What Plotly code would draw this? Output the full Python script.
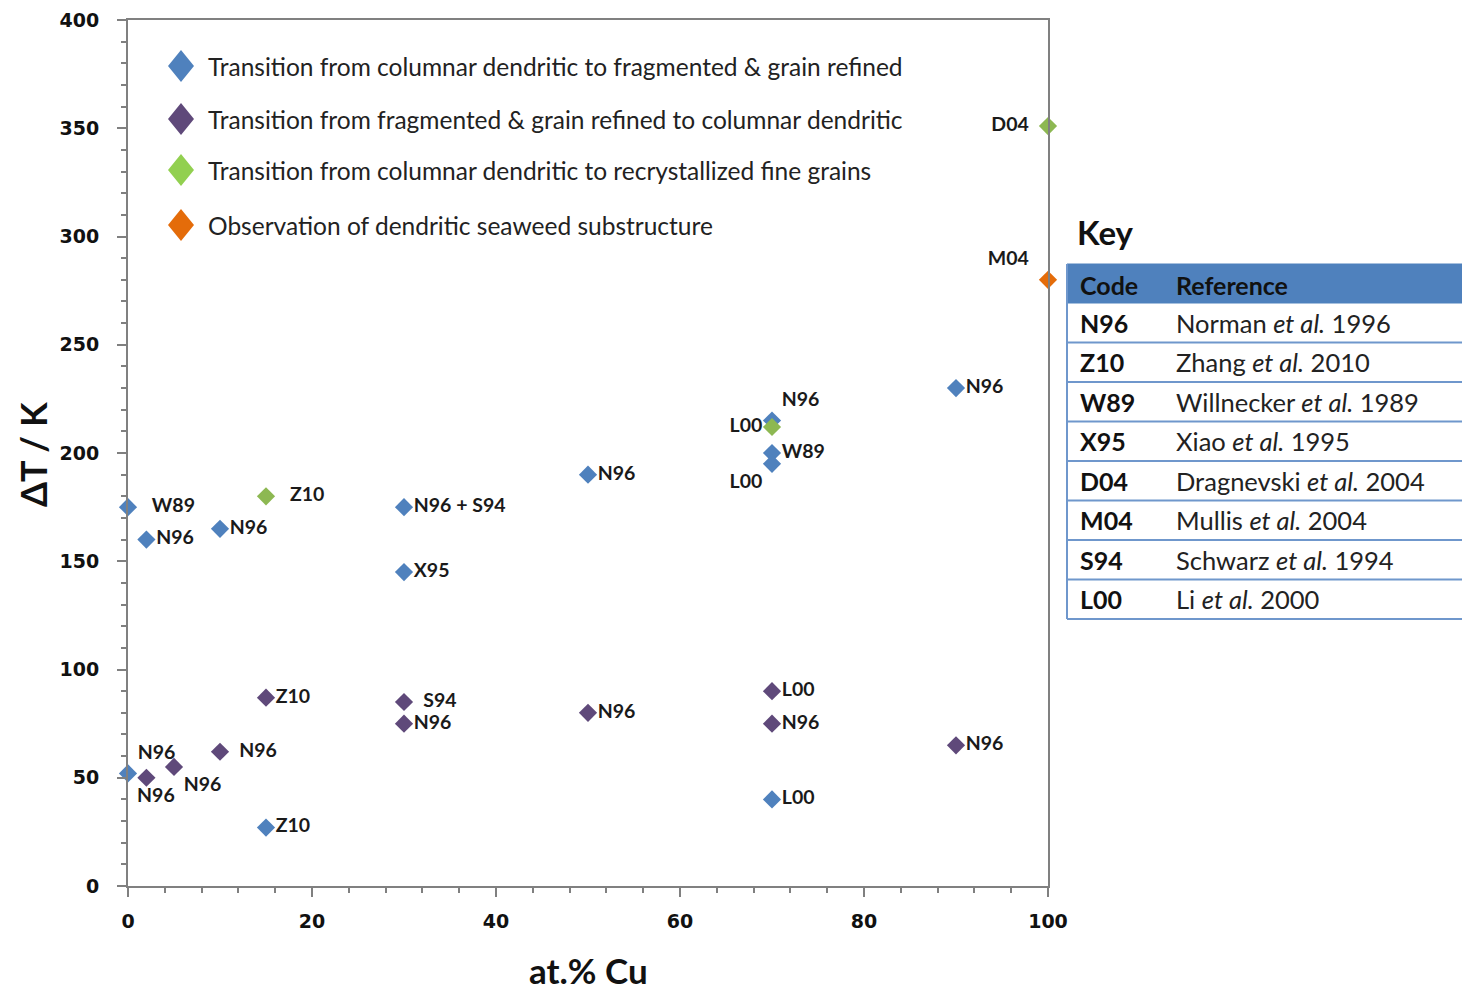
import plotly.graph_objects as go

# ---------------- data ----------------
blue_x = [0, 2, 10, 30, 30, 50, 70, 70, 70, 90, 0, 15, 70]
blue_y = [175, 160, 165, 175, 145, 190, 215, 200, 195, 230, 52, 27, 40]
blue_lbl = ["W89", "N96", "N96", "N96 + S94", "X95", "N96", "N96", "W89", "L00", "N96", "N96", "Z10", "L00"]

purple_x = [2, 5, 10, 15, 30, 30, 50, 70, 70, 90]
purple_y = [50, 55, 62, 87, 85, 75, 80, 90, 75, 65]
purple_lbl = ["N96", "N96", "N96", "Z10", "S94", "N96", "N96", "L00", "N96", "N96"]

green_x = [15, 70, 100]
green_y = [180, 212, 351]
green_lbl = ["Z10", "L00", "D04"]

orange_x = [100]
orange_y = [280]
orange_lbl = ["M04"]

series_names = [
    "Transition from columnar dendritic to fragmented & grain refined",
    "Transition from fragmented & grain refined to columnar dendritic",
    "Transition from columnar dendritic to recrystallized fine grains",
    "Observation of dendritic seaweed substructure",
]

key_codes = ["N96", "Z10", "W89", "X95", "D04", "M04", "S94", "L00"]
key_refs = [
    "Norman <i>et al.</i> 1996",
    "Zhang <i>et al.</i> 2010",
    "Willnecker <i>et al.</i> 1989",
    "Xiao <i>et al.</i> 1995",
    "Dragnevski <i>et al.</i> 2004",
    "Mullis <i>et al.</i> 2004",
    "Schwarz <i>et al.</i> 1994",
    "Li <i>et al.</i> 2000",
]

x_ticks = [0, 20, 40, 60, 80, 100]
y_ticks = [0, 50, 100, 150, 200, 250, 300, 350, 400]

# ---------------- styles ----------------
C_BLUE = "#4F81BD"
C_PURPLE = "#5F497A"
C_GREEN = "#8DB852"
C_ORANGE = "#E46C0A"
LEG_COLORS = [C_BLUE, C_PURPLE, "#92D050", C_ORANGE]

blue_pos = ["middle right", "middle right", "middle right", "middle right", "middle right",
            "middle right", "top right", "middle right", "bottom left", "middle right",
            "top right", "middle right", "middle right"]
blue_pad = ["   ", "", "", "", "", "", "", "", "", "", "", "", ""]
purple_pos = ["bottom center", "bottom right", "middle right", "middle right", "middle right",
              "middle right", "middle right", "middle right", "middle right", "middle right"]
purple_pad = ["    ", "", "  ", "", "  ", "", "", "", "", ""]
green_pos = ["middle right", "middle left", "middle left"]
green_pad_r = ["   ", "", ""]
green_pad_l = ["", "", "  "]
orange_pos = ["top left"]
orange_pad_l = ["  "]

FIG_W, FIG_H = 1462, 992
L, R, T, B = 128, 1048, 20, 886  # plot area pixels


def px(xp):
    return (xp - L) / (R - L)


def py(yp):
    return (B - yp) / (B - T)


LBL_FONT = dict(family="Lato", size=19.5, color="#1a1a1a", weight="bold")

fig = go.Figure()

fig.add_trace(go.Scatter(
    x=blue_x, y=blue_y, mode="markers+text",
    text=[p + t for p, t in zip(blue_pad, blue_lbl)], textposition=blue_pos,
    marker=dict(symbol="diamond", size=14, color=C_BLUE),
    textfont=LBL_FONT, name=series_names[0], cliponaxis=False))
fig.add_trace(go.Scatter(
    x=purple_x, y=purple_y, mode="markers+text",
    text=[p + t for p, t in zip(purple_pad, purple_lbl)], textposition=purple_pos,
    marker=dict(symbol="diamond", size=14, color=C_PURPLE),
    textfont=LBL_FONT, name=series_names[1], cliponaxis=False))
fig.add_trace(go.Scatter(
    x=green_x, y=green_y, mode="markers+text",
    text=[a + t + b for a, t, b in zip(green_pad_r, green_lbl, green_pad_l)], textposition=green_pos,
    marker=dict(symbol="diamond", size=14, color=C_GREEN),
    textfont=LBL_FONT, name=series_names[2], cliponaxis=False))
fig.add_trace(go.Scatter(
    x=orange_x, y=orange_y, mode="markers+text",
    text=[t + p for t, p in zip(orange_lbl, orange_pad_l)], textposition=orange_pos,
    marker=dict(symbol="diamond", size=14, color=C_ORANGE),
    textfont=LBL_FONT, name=series_names[3], cliponaxis=False))

shapes = []
annotations = []

# ---- manual legend (large diamonds) ----
leg_y = [66, 119, 170, 225]
for name, col, yy in zip(series_names, LEG_COLORS, leg_y):
    shapes.append(dict(type="path", xref="paper", yref="paper",
                       xsizemode="pixel", ysizemode="pixel",
                       xanchor=px(181), yanchor=py(yy),
                       path="M0,16 L13,0 L0,-16 L-13,0 Z",
                       fillcolor=col, line=dict(width=0)))
    annotations.append(dict(xref="paper", yref="paper", x=px(206), y=py(yy),
                            text=name, showarrow=False, xanchor="left", yanchor="middle",
                            font=dict(family="Lato", size=24.5, color="#222222")))

# ---- axis titles ----
annotations.append(dict(xref="paper", yref="paper", x=px(588), y=py(970), text="at.% Cu",
                        showarrow=False, xanchor="center", yanchor="middle",
                        font=dict(family="Lato", size=35, color="#111111", weight="bold")))
annotations.append(dict(xref="paper", yref="paper", x=px(33), y=py(455), text="ΔT / K",
                        showarrow=False, xanchor="center", yanchor="middle", textangle=-90,
                        font=dict(family="Lato", size=36, color="#111111", weight="bold")))

# ---- Key table ----
TL, TR = 1067, 1470
row_top = 264
hdr_h = 39
row_h = 39.5
annotations.append(dict(xref="paper", yref="paper", x=px(1075), y=py(232), text="Key",
                        showarrow=False, xanchor="left", yanchor="middle",
                        font=dict(family="Lato", size=33, color="#111111", weight="bold")))
shapes.append(dict(type="rect", xref="paper", yref="paper",
                   x0=px(TL), x1=px(TR), y0=py(row_top), y1=py(row_top + hdr_h),
                   fillcolor=C_BLUE, line=dict(color=C_BLUE, width=1)))
annotations.append(dict(xref="paper", yref="paper", x=px(1078), y=py(row_top + hdr_h / 2 + 1),
                        text="Code", showarrow=False, xanchor="left", yanchor="middle",
                        font=dict(family="Lato", size=25, color="#111111", weight="bold")))
annotations.append(dict(xref="paper", yref="paper", x=px(1174), y=py(row_top + hdr_h / 2 + 1),
                        text="Reference", showarrow=False, xanchor="left", yanchor="middle",
                        font=dict(family="Lato", size=25, color="#111111", weight="bold")))
y0 = row_top + hdr_h
for i, (c, r) in enumerate(zip(key_codes, key_refs)):
    ytop = y0 + i * row_h
    ybot = ytop + row_h
    shapes.append(dict(type="line", xref="paper", yref="paper",
                       x0=px(TL), x1=px(TR), y0=py(ybot), y1=py(ybot),
                       line=dict(color="#6F97CC", width=2)))
    annotations.append(dict(xref="paper", yref="paper", x=px(1078), y=py(ytop + row_h / 2),
                            text=c, showarrow=False, xanchor="left", yanchor="middle",
                            font=dict(family="Lato", size=25, color="#111111", weight="bold")))
    annotations.append(dict(xref="paper", yref="paper", x=px(1174), y=py(ytop + row_h / 2),
                            text=r, showarrow=False, xanchor="left", yanchor="middle",
                            font=dict(family="Lato", size=25.5, color="#222222")))
shapes.append(dict(type="line", xref="paper", yref="paper",
                   x0=px(TL), x1=px(TL), y0=py(row_top), y1=py(y0 + len(key_codes) * row_h),
                   line=dict(color="#6F97CC", width=2)))

AX_COL = "#808080"
fig.update_layout(
    width=FIG_W, height=FIG_H,
    margin=dict(l=L, r=FIG_W - R, t=T, b=FIG_H - B, autoexpand=False),
    plot_bgcolor="white", paper_bgcolor="white",
    showlegend=False,
    shapes=shapes, annotations=annotations,
    xaxis=dict(range=[0, 100], tickvals=x_ticks, showgrid=False, zeroline=False,
               showline=True, linecolor=AX_COL, linewidth=2, mirror=True,
               ticks="outside", ticklen=9, tickwidth=2, tickcolor=AX_COL,
               minor=dict(dtick=4, ticks="outside", ticklen=5, tickwidth=2, tickcolor=AX_COL),
               tickfont=dict(family="DejaVu Sans", size=19, color="#111111", weight="bold"),
               ticklabelstandoff=8),
    yaxis=dict(range=[0, 400], tickvals=y_ticks, showgrid=False, zeroline=False,
               showline=True, linecolor=AX_COL, linewidth=2, mirror=True,
               ticks="outside", ticklen=9, tickwidth=2, tickcolor=AX_COL,
               minor=dict(dtick=10, ticks="outside", ticklen=5, tickwidth=2, tickcolor=AX_COL),
               tickfont=dict(family="DejaVu Sans", size=19, color="#111111", weight="bold"),
               ticklabelstandoff=14),
)

fig.write_html("out.html")
